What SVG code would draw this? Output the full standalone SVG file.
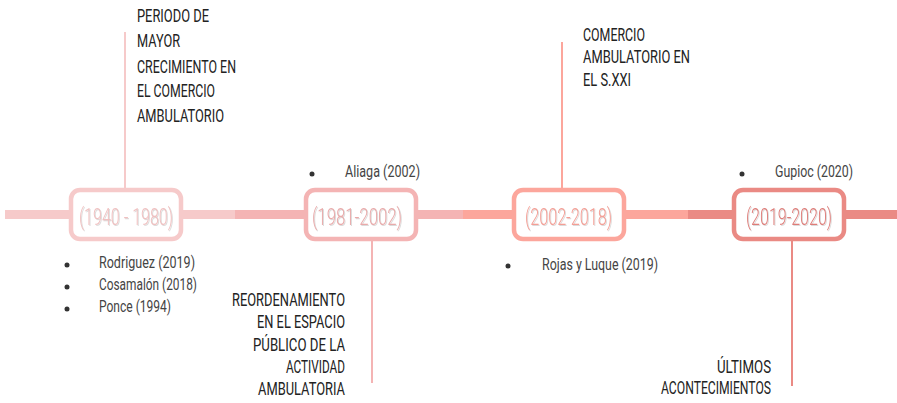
<svg xmlns="http://www.w3.org/2000/svg" width="897" height="403" viewBox="0 0 897 403">
<defs>
<filter id="sh" x="-10%" y="-20%" width="130%" height="150%">
<feDropShadow dx="1" dy="1" stdDeviation="0.5" flood-color="#999" flood-opacity="0.35"/>
</filter>
<style>
.t{font-family:Roboto,"DejaVu Sans",sans-serif;font-weight:400;}
.l{font-family:Roboto,"DejaVu Sans",sans-serif;font-weight:300;}
.lbl{font-size:19px;fill:#222;}
.ref{font-size:16px;fill:#444;font-weight:400;}
.yr{font-size:24px;filter:url(#sh);}
.box{fill:#fff;stroke-width:4.5;}
.dot{fill:#333;}
</style>
</defs>
<rect width="897" height="403" fill="#fff"/>
<g id="connectors">
<rect x="5" y="210" width="230" height="9" fill="#f6caca"/>
<rect x="235" y="210" width="228" height="9" fill="#f4b4b4"/>
<rect x="463" y="210" width="225" height="9" fill="#fca69c"/>
<rect x="688" y="210" width="209" height="9" fill="#ea8a84"/>
<line x1="125" y1="32" x2="125" y2="189" stroke="#f6caca" stroke-width="2"/>
<line x1="372" y1="240" x2="372" y2="383" stroke="#f4b4b4" stroke-width="2"/>
<line x1="562" y1="42" x2="562" y2="188" stroke="#fca69c" stroke-width="2"/>
<line x1="792" y1="240" x2="792" y2="386" stroke="#ea8a84" stroke-width="2"/>
</g>
<g id="node-1940">
<rect class="box" x="71" y="190" width="110" height="49" rx="9" stroke="#f6caca"/>
<text class="l yr" x="79" y="225" textLength="94" lengthAdjust="spacingAndGlyphs" fill="#f0c0c0">(1940 - 1980)</text>
</g>
<g id="node-1981">
<rect class="box" x="306" y="190" width="110" height="49" rx="9" stroke="#f4b4b4"/>
<text class="l yr" x="312" y="225" textLength="90" lengthAdjust="spacingAndGlyphs" fill="#e9aaaa">(1981-2002)</text>
</g>
<g id="node-2002">
<rect class="box" x="514" y="190" width="110" height="49" rx="9" stroke="#fca69c"/>
<text class="l yr" x="525" y="225" textLength="87" lengthAdjust="spacingAndGlyphs" fill="#f49e95">(2002-2018)</text>
</g>
<g id="node-2019">
<rect class="box" x="734" y="190" width="110" height="49" rx="9" stroke="#ea8a84"/>
<text class="l yr" x="746" y="225" textLength="86" lengthAdjust="spacingAndGlyphs" fill="#de7c78">(2019-2020)</text>
</g>
<g id="label-periodo">
<text class="t lbl" x="137" y="22" textLength="72" lengthAdjust="spacingAndGlyphs">PERIODO DE</text>
<text class="t lbl" x="137" y="47" textLength="43" lengthAdjust="spacingAndGlyphs">MAYOR</text>
<text class="t lbl" x="137" y="73" textLength="99" lengthAdjust="spacingAndGlyphs">CRECIMIENTO EN</text>
<text class="t lbl" x="137" y="97" textLength="78" lengthAdjust="spacingAndGlyphs">EL COMERCIO</text>
<text class="t lbl" x="137" y="122" textLength="87" lengthAdjust="spacingAndGlyphs">AMBULATORIO</text>
</g>
<g id="label-sxxi">
<text class="t lbl" x="583" y="41" textLength="62" lengthAdjust="spacingAndGlyphs">COMERCIO</text>
<text class="t lbl" x="583" y="63" textLength="107" lengthAdjust="spacingAndGlyphs">AMBULATORIO EN</text>
<text class="t lbl" x="583" y="86" textLength="48" lengthAdjust="spacingAndGlyphs">EL S.XXI</text>
</g>
<g id="label-reordenamiento">
<text class="t lbl" x="232" y="306" textLength="113" lengthAdjust="spacingAndGlyphs">REORDENAMIENTO</text>
<text class="t lbl" x="257" y="328" textLength="88" lengthAdjust="spacingAndGlyphs">EN EL ESPACIO</text>
<text class="t lbl" x="253" y="351" textLength="92" lengthAdjust="spacingAndGlyphs">PÚBLICO DE LA</text>
<text class="t lbl" x="286" y="373" textLength="59" lengthAdjust="spacingAndGlyphs">ACTIVIDAD</text>
<text class="t lbl" x="258" y="395" textLength="87" lengthAdjust="spacingAndGlyphs">AMBULATORIA</text>
</g>
<g id="label-ultimos">
<text class="t lbl" x="717" y="373" textLength="54" lengthAdjust="spacingAndGlyphs">ÚLTIMOS</text>
<text class="t lbl" x="661" y="394" textLength="110" lengthAdjust="spacingAndGlyphs">ACONTECIMIENTOS</text>
</g>
<g id="refs-1940">
<circle class="dot" cx="67" cy="265" r="2.5"/>
<text class="l ref" x="99" y="268" textLength="96" lengthAdjust="spacingAndGlyphs">Rodriguez (2019)</text>
<circle class="dot" cx="67" cy="287" r="2.5"/>
<text class="l ref" x="99" y="290" textLength="98" lengthAdjust="spacingAndGlyphs">Cosamalón (2018)</text>
<circle class="dot" cx="67" cy="309" r="2.5"/>
<text class="l ref" x="99" y="312" textLength="72" lengthAdjust="spacingAndGlyphs">Ponce (1994)</text>
</g>
<g id="refs-1981">
<circle class="dot" cx="312" cy="174" r="2.5"/>
<text class="l ref" x="345" y="177" textLength="75" lengthAdjust="spacingAndGlyphs">Aliaga (2002)</text>
</g>
<g id="refs-2002">
<circle class="dot" cx="508" cy="266" r="2.5"/>
<text class="l ref" x="542" y="270" textLength="116" lengthAdjust="spacingAndGlyphs">Rojas y Luque (2019)</text>
</g>
<g id="refs-2019">
<circle class="dot" cx="742" cy="174" r="2.5"/>
<text class="l ref" x="775" y="177" textLength="78" lengthAdjust="spacingAndGlyphs">Gupioc (2020)</text>
</g>
</svg>
